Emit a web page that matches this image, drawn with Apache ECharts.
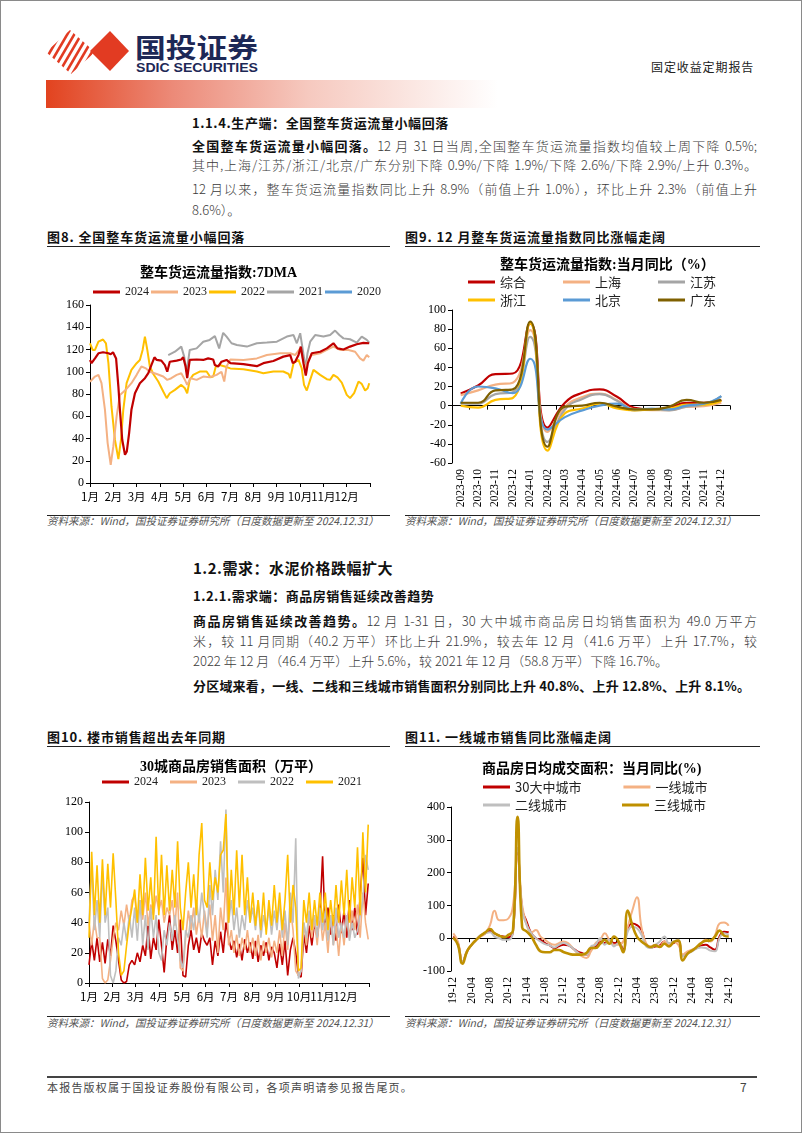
<!DOCTYPE html>
<html><head><meta charset="utf-8">
<script src="https://cdn.jsdelivr.net/npm/echarts@6/dist/echarts.min.js"></script>
<style>
body{margin:0;background:#fff;}
#page{position:relative;width:802px;height:1133px;background:#fff;overflow:hidden;font-family:"Noto Sans CJK SC",sans-serif;color:#3a3a3a;}
#frame{position:absolute;left:0;top:0;width:802px;height:1133px;box-sizing:border-box;border:1px solid #8a8a8a;pointer-events:none;}
.t{position:absolute;white-space:nowrap;line-height:18px;font-size:13px;font-weight:300;}
.t b{font-weight:700;color:#111;}
.j{text-align:justify;text-align-last:justify;white-space:normal;height:18px;overflow:visible;}
.b{font-weight:bold;color:#111;}
.fig{position:absolute;font-size:13px;font-weight:bold;color:#111;line-height:18px;letter-spacing:0.9px;white-space:nowrap;}
.hl{position:absolute;height:0;border-top:1px solid #222;}
.src{position:absolute;font-size:10.5px;font-style:italic;color:#555;line-height:16px;white-space:nowrap;text-align:justify;text-align-last:justify;width:331px;}
.ch{position:absolute;}
.ml{position:absolute;font-family:"Noto Sans CJK SC",sans-serif;font-size:11.5px;color:#000;line-height:14px;white-space:nowrap;transform:translateX(-50%);z-index:5;}
</style></head>
<body><div id="page">
<svg style="position:absolute;left:0;top:0" width="802" height="112">
  <defs><clipPath id="cl"><polygon points="46,52 70,30 95,52 71,74"/></clipPath></defs>
  <g clip-path="url(#cl)" stroke="#E23B22" stroke-width="2.6">
    <line x1="36" y1="76" x2="64" y2="28"/><line x1="43" y1="76" x2="71" y2="28"/>
    <line x1="50" y1="76" x2="78" y2="28"/><line x1="57" y1="76" x2="85" y2="28"/>
    <line x1="64" y1="76" x2="92" y2="28"/><line x1="71" y1="76" x2="99" y2="28"/>
    <line x1="78" y1="76" x2="106" y2="28"/>
  </g>
  <polygon points="90,51 110,31 129,51 110,71" fill="#E23B22"/>
  <text x="135" y="58" font-family="Noto Sans CJK SC" font-weight="bold" font-size="27" fill="#1D2856" textLength="123" lengthAdjust="spacingAndGlyphs">国投证券</text>
  <text x="136" y="72" font-family="Liberation Sans Narrow, Liberation Sans, sans-serif" font-weight="bold" font-size="12.5" fill="#1D2856" textLength="122" lengthAdjust="spacingAndGlyphs">SDIC SECURITIES</text>
</svg>
<div class="t" style="left:651px;top:58px;font-size:12px;letter-spacing:0.9px;color:#222;font-weight:normal;">固定收益定期报告</div>
<div style="position:absolute;left:46px;top:80px;width:452px;height:28px;background:linear-gradient(to right,#E2431F 0%,#EC8A78 28%,#F6C9BF 58%,#FFFFFF 100%);"></div>

<div class="t b" style="left:192px;top:114px;letter-spacing:0.6px;">1.1.4.生产端：全国整车货运流量小幅回落</div>
<div class="t j" style="left:192px;top:137px;width:565px;"><b>全国整车货运流量小幅回落。</b>12 月 31 日当周,全国整车货运流量指数均值较上周下降 0.5%;</div>
<div class="t j" style="left:192px;top:156px;width:565px;">其中,上海/江苏/浙江/北京/广东分别下降 0.9%/下降 1.9%/下降 2.6%/下降 2.9%/上升 0.3%。</div>
<div class="t j" style="left:192px;top:180px;width:565px;">12 月以来，整车货运流量指数同比上升 8.9%（前值上升 1.0%），环比上升 2.3%（前值上升</div>
<div class="t" style="left:192px;top:201px;">8.6%）。</div>

<div class="fig" style="left:47px;top:228px;">图8. 全国整车货运流量小幅回落</div>
<div class="fig" style="left:405px;top:228px;">图9. 12 月整车货运流量指数同比涨幅走阔</div>
<div class="hl" style="left:47px;top:246px;width:343px;"></div>
<div class="hl" style="left:405px;top:246px;width:355px;"></div>

<div id="c8" class="ch" style="left:47px;top:250px;width:345px;height:262px;"></div>
<div id="c9" class="ch" style="left:405px;top:250px;width:360px;height:262px;"></div>

<div class="hl" style="left:47px;top:515px;width:343px;"></div>
<div class="hl" style="left:405px;top:515px;width:355px;"></div>
<div class="src" style="left:47px;top:513px;">资料来源：Wind，国投证券证券研究所（日度数据更新至 2024.12.31）</div>
<div class="src" style="left:405px;top:513px;">资料来源：Wind，国投证券证券研究所（日度数据更新至 2024.12.31）</div>

<div class="t b" style="left:193px;top:559px;font-size:15px;letter-spacing:0.5px;">1.2.需求：水泥价格跌幅扩大</div>
<div class="t b" style="left:193px;top:587px;letter-spacing:0.5px;">1.2.1.需求端：商品房销售延续改善趋势</div>
<div class="t j" style="left:193px;top:612px;width:564px;"><b>商品房销售延续改善趋势。</b>12 月 1-31 日，30 大中城市商品房日均销售面积为 49.0 万平方</div>
<div class="t j" style="left:193px;top:632px;width:564px;">米，较 11 月同期（40.2 万平）环比上升 21.9%，较去年 12 月（41.6 万平）上升 17.7%，较</div>
<div class="t" style="left:193px;top:652px;">2022 年 12 月（46.4 万平）上升 5.6%，较 2021 年 12 月（58.8 万平）下降 16.7%。</div>
<div class="t j b" style="left:193px;top:677px;width:557px;">分区域来看，一线、二线和三线城市销售面积分别同比上升 40.8%、上升 12.8%、上升 8.1%。</div>

<div class="fig" style="left:47px;top:728px;">图10. 楼市销售超出去年同期</div>
<div class="fig" style="left:405px;top:728px;">图11. 一线城市销售同比涨幅走阔</div>
<div class="hl" style="left:47px;top:746px;width:343px;"></div>
<div class="hl" style="left:405px;top:746px;width:355px;"></div>

<div id="c10" class="ch" style="left:47px;top:750px;width:345px;height:262px;"></div>
<div id="c11" class="ch" style="left:405px;top:750px;width:360px;height:262px;"></div>

<div class="hl" style="left:47px;top:1016px;width:343px;"></div>
<div class="hl" style="left:405px;top:1016px;width:355px;"></div>
<div class="src" style="left:47px;top:1015px;">资料来源：Wind，国投证券证券研究所（日度数据更新至 2024.12.31）</div>
<div class="src" style="left:405px;top:1015px;">资料来源：Wind，国投证券证券研究所（日度数据更新至 2024.12.31）</div>

<div style="position:absolute;left:47px;top:1076px;width:710px;height:2px;background:#444;"></div>
<div class="t" style="left:47px;top:1078px;font-size:11px;letter-spacing:1.2px;color:#444;font-weight:normal;">本报告版权属于国投证券股份有限公司，各项声明请参见报告尾页。</div>
<div class="t" style="left:740px;top:1078px;font-size:12px;color:#444;font-weight:normal;">7</div>
<div id="frame"></div>
</div>
<script>
// ---------- Chart 8: 整车货运流量指数 7DMA ([day-of-year, value]) ----------
const monthLabels = ['1月','2月','3月','4月','5月','6月','7月','8月','9月','10月','11月','12月',''];
const legend8 = ['2024','2023','2022','2021','2020'];
const s8_2024 = [[0,110.6],[2,107.7],[6.5,112],[11,116.6],[17,117.5],[24,116.6],[27,115.7],[30,117.5],[34,112],[37,86.7],[39,65.8],[42,38.9],[45.6,25.4],[48,28.4],[51,44.9],[54,65.8],[58.6,80.7],[65,89.7],[71.6,94.2],[76,98.7],[80,106],[84,113],[87,110.6],[93,110],[97.6,106],[100.7,100],[104,109],[113,110],[119,111],[121.5,113],[124.6,104.7],[126.7,94.2],[130,110.6],[139,111],[147.6,110.6],[154,112],[160.6,111],[162.8,106],[167,104.7],[171.4,109],[178,110.6],[183,107.7],[200,106.8],[217.5,105],[226,107.7],[239,109.7],[252,113.6],[261,115],[264.4,107.7],[267.4,109],[271.8,115],[274.8,122.6],[278.3,107.7],[281.3,96.5],[284,107.7],[289,116.6],[300,118],[308.7,121],[317.3,125.6],[322.6,121],[330.4,120],[339,122.6],[347.7,124.7],[356.4,126],[364,125.6]];
const s8_2023 = [[0,91],[6.5,95.7],[11,97.2],[15,89.7],[19.5,65.8],[23,35.9],[27,16.4],[30.4,32.9],[34.7,59.8],[39,79.2],[45.6,83.1],[54,89.7],[60.8,97.2],[67,104.7],[73,103],[78,100],[87,98],[95.5,95.7],[100.7,92.7],[106,94.2],[113,97.2],[119,98.7],[123.7,92.7],[126.7,88.2],[131,94.2],[139,92.7],[147.6,95.7],[156,95],[165,97.2],[171.4,100],[175,91.2],[178,104.7],[183,111],[200,110.6],[217.5,112],[230.5,115],[248,116.6],[261,116.6],[267.4,115],[274,121],[277.4,112],[280.5,101.7],[283.5,109],[289,115],[300,116.6],[308.7,119.6],[317.3,122.6],[326,119.6],[337,119.6],[345.6,118],[352,112],[356.4,110],[360.8,115],[364,113]];
const s8_2022 = [[0,125.6],[3.5,119.6],[6.5,119.6],[11,127],[17,129],[20.8,125.6],[24,107.7],[28,68.8],[32.5,38.9],[37,21.5],[40.4,38.9],[43.4,65.8],[47.7,89.7],[54,101.7],[60.8,107.7],[65,110.6],[68.6,119.6],[71.6,131.6],[74.7,119.6],[78,104.7],[82.5,98],[89,91.2],[95.5,82.2],[100,76.3],[104,80.7],[110.7,83.7],[119,88.2],[123.7,85.2],[126.7,80.7],[130,92.7],[134.5,97.2],[143,100.2],[152,100.2],[157,95],[160.6,95.7],[164,104.7],[169,106],[175.8,104.7],[183,103],[200,102.3],[217.5,100.2],[226,98.7],[239,100.2],[252,100.2],[259,98],[261,94.2],[265.3,107.7],[271.8,110.6],[276,103],[279,88.2],[282.6,83.1],[287,92.7],[291.3,101.7],[300,97.2],[308.7,93.3],[313,92.7],[317.3,97.2],[322.6,95],[328.2,90.3],[334.7,79.2],[339,76.3],[344.3,80.7],[350,91.2],[354.2,89.1],[358.6,83.1],[362,85.2],[364,89.7]];
const s8_2021 = [[102,115],[110.7,118],[119,122.6],[122.8,113.6],[126,100],[130,119.6],[139,121],[147.6,127],[156,128.6],[162.8,132],[168.4,121],[173.6,135],[178,131.6],[184.5,125.6],[191.5,124],[204.5,122.6],[217.5,125.6],[230.5,126.2],[243.6,127],[256.6,131.6],[265.3,133],[269.6,125.6],[274,134.6],[277.4,119.6],[281,103.2],[283.5,116.6],[287,127],[293.5,133],[304.3,131.6],[313,133],[319.5,137],[325,133],[330.4,130],[339,129.2],[347.7,126.2],[354.2,131.6],[360.8,128.6],[364,126.2]];
const s8_2020 = [];

// ---------- Chart 9: 当月同比 (%) ----------
const cats9 = ['2023-09','2023-10','2023-11','2023-12','2024-01','2024-02','2024-03','2024-04','2024-05','2024-06','2024-07','2024-08','2024-09','2024-10','2024-11','2024-12'];
const v9_zonghe   = [12.7, 21, 33, 33.6, 86, -23, 3, 13.4, 16.9, 9.2, -2.4, -4.1, -2, 2.9, 2.9, 5.7];
const v9_shanghai = [11, 16, 22, 24, 79, -27.5, -1.3, 9, 12.7, 5.7, -4, -4.8, -4.8, -1.3, -0.6, 3];
const v9_jiangsu  = [2, 2, 12, 14, 72, -38, -4, 7, 12, 5, -5, -4, -5, -1, 1, 10];
const v9_zhejiang = [0, -2, 6, 8, 86, -47, -8, -3, 2, -3, -5, -4, -3, 1, 1, 5];
const v9_beijing  = [2, 20, 18, 13, 49, -25, -12, -5, 0, 2, -4, -3, -4, 0, 2, 10];
const v9_guangdong= [3, 3, 16, 17, 88, -43, -1, 0, 3, -1, -4, -4, -1, 6, 3, 6];

// ---------- Chart 10: 30城商品房销售面积 (万平), sampled every 3.5 days ----------
const step10 = 3.5;
const legend10 = ['2024','2023','2022','2021'];
const v10_2024 = [12,28,15,30,14,27,13,29,18, 38,28,15,2,0,1,12,15, 12,20,14,25,18,38,16,30,22, 42,25,7,30,45,22,35,20,42, 5,4,25,35,22,30,20,33,28, 25,30,12,28,18,34,20,40, 30,22,28,17,26,15,29,20,27, 16,28,14,25,18,27,15,24,20, 10,26,12,28,5,22,30,20, 5,4,32,20,38,25,40,30,45, 84,35,50,32,45,28,52,33, 48,30,55,35,50,32,58,83,45,66];
const v10_2023 = [40,25,42,30,30,3,0,2,15, 30,40,35,48,38,52,40,55, 58,40,55,42,60,38,52,45,58, 48,55,40,50,45,55,38,60,10, 8,30,48,35,50,32,45,30,48, 35,52,28,45,20,50,35,70, 25,35,20,32,18,30,22,35,20, 30,18,32,15,28,20,30,17,28, 20,35,18,40,22,50,35,8, 5,8,40,25,45,30,42,25,48, 28,40,20,45,25,38,18,40, 25,45,30,48,35,52,30,60,40,29];
const v10_2022 = [40,80,35,55,30,74,40,50,5, 0,8,30,25,40,28,45,30, 50,28,55,25,45,22,50,30,45, 20,15,35,25,40,28,45,30,15, 10,35,30,45,35,55,40,60,45, 30,65,45,75,55,94,60,115, 40,55,35,50,30,45,35,55,40, 50,35,55,30,45,35,50,32,48, 35,55,30,48,25,60,40,96, 3,8,40,30,48,35,45,30,50, 35,48,28,45,25,50,30,40, 30,45,28,40,30,35,45,55,85,75];
const v10_2021 = [30,87,45,78,40,82,45,79,50, 86,55,20,5,8,25,40,50, 62,40,72,45,83,48,70,42,97, 45,85,45,78,48,75,50,94,50, 35,60,80,50,72,45,85,106,55, 50,80,55,70,60,85,88,112, 40,75,45,88,50,85,45,70,40, 60,38,55,35,60,32,55,38,65, 40,60,35,55,85,40,65,50, 8,10,55,40,60,35,55,38,60, 40,60,35,55,38,65,40,68, 45,75,40,70,50,90,45,100,60,105];

// ---------- Chart 11: 商品房日均成交面积 当月同比 (%) ----------
const cats11 = ['19-12','20-01','20-02','20-03','20-04','20-05','20-06','20-07','20-08','20-09','20-10','20-11','20-12',
 '21-01','21-02','21-03','21-04','21-05','21-06','21-07','21-08','21-09','21-10','21-11','21-12',
 '22-01','22-02','22-03','22-04','22-05','22-06','22-07','22-08','22-09','22-10','22-11','22-12',
 '23-01','23-02','23-03','23-04','23-05','23-06','23-07','23-08','23-09','23-10','23-11','23-12',
 '24-01','24-02','24-03','24-04','24-05','24-06','24-07','24-08','24-09','24-10','24-11','24-12'];
const v11_30 = [5,-15,-72,-40,-20,-5,8,15,22,15,8,5,3, 20,270,90,50,15,0,-5,-15,-22,-30,-25,-20, -22,-30,-40,-45,-50,-30,-25,-10,-15,-5,-15,-12, -35,30,45,40,25,-20,-28,-25,-22,-10,-20,-15, -8,-55,-45,-38,-30,-22,-20,-28,-35,5,20,18];
const v11_t1 = [15,-10,-70,-40,-20,-5,5,15,40,84,55,55,60, 100,250,100,40,18,25,5,-5,-15,-20,-15,-10, -15,-30,-45,-55,-60,-40,-15,-5,15,-5,-20,-20, -10,35,84,125,33,-15,-25,-20,-25,-10,-20,-10, -20,-50,-40,-35,-28,-15,-5,-10,8,45,48,38];
const v11_t2 = [0,-20,-72,-40,-20,-5,10,15,18,5,0,-5,-5, 20,275,85,40,15,0,-10,-18,-22,-28,-20,-15, -20,-30,-42,-50,-50,-25,-20,0,-20,-5,-25,-15, -40,20,35,30,10,-25,-30,-20,-10,5,-15,-10, -5,-55,-48,-40,-32,-28,-30,-38,-40,0,15,10];
const v11_t3 = [2,-20,-78,-40,-20,-5,8,18,28,15,8,3,10, 23,370,33,20,5,-20,-40,-43,-43,-36,-36,-42, -47,-50,-50,-50,-45,-30,-30,-17,-5,-17,5,-10, -43,84,40,5,-10,-20,-27,-22,-27,-17,-25,-12, -7,-68,-48,-38,-27,-15,-8,-7,5,23,8,5];

// ---------- shared styling ----------
const serif = '"Liberation Serif","Noto Sans CJK SC",serif';
const cjk = '"Noto Sans CJK SC","Liberation Serif",sans-serif';
const black = '#000';
function yAxis(min, max, interval) {
  return {type:'value', min:min, max:max, interval:interval,
    axisLine:{show:true, onZero:false, lineStyle:{color:black, width:1}},
    axisTick:{show:true, length:4, lineStyle:{color:black}},
    splitLine:{show:false},
    axisLabel:{color:black, fontFamily:serif, fontSize:12, margin:6}};
}
// month axis (category, 13 boundaries) + hidden day-of-year value axis for the data
function monthAxes() {
  return [
    {type:'category', data:monthLabels, boundaryGap:false, position:'bottom',
      axisLine:{show:true, onZero:false, lineStyle:{color:black, width:1}},
      axisTick:{show:true, length:4, interval:0, lineStyle:{color:black}},
      splitLine:{show:false},
      axisLabel:{show:false}},
    {type:'value', min:0, max:365, position:'top', show:false,
      axisLine:{show:false}, axisTick:{show:false}, axisLabel:{show:false}, splitLine:{show:false}}
  ];
}
// month tick labels placed at the category axis' own pixel positions (HTML text)
function addMonthLabels(chart, container) {
  const y0 = chart.convertToPixel({yAxisIndex:0}, 0);
  for (let k = 0; k < 12; k++) {
    const x = chart.convertToPixel({xAxisIndex:0}, monthLabels[k]);
    const d = document.createElement('div');
    d.className = 'ml';
    d.textContent = monthLabels[k];
    d.style.left = x + 'px';
    d.style.top = (y0 + 6) + 'px';
    container.appendChild(d);
  }
}
function titleOf(text, left, top) {
  return {text:text, left:left, top:top, padding:0,
    textStyle:{fontFamily:serif, fontWeight:'bold', fontSize:14, color:black, lineHeight:18}};
}
function legendOf(data, left, top, gap, font, size) {
  return {data:data, left:left, top:top, padding:0, itemGap:gap, itemWidth:27, itemHeight:3,
    icon:'rect', orient:'horizontal', selectedMode:false,
    textStyle:{fontFamily:font, fontSize:size, color:'#222'}};
}
function lineS(name, data, color, width, extra) {
  return Object.assign({name:name, type:'line', data:data, symbol:'none', showSymbol:false,
    lineStyle:{color:color, width:width}, itemStyle:{color:color}, animation:false}, extra || {});
}
function catPair(cats, labelInterval, tickInterval) {
  return [
    {type:'category', data:cats, position:'bottom', boundaryGap:true,
      axisLine:{show:false, onZero:false}, axisTick:{show:false},
      axisLabel:{rotate:90, interval:labelInterval, color:black, fontFamily:serif, fontSize:11.5, margin:6}},
    {type:'category', data:cats, position:'top', boundaryGap:true,
      axisLine:{show:true, onZero:true, lineStyle:{color:black, width:1}},
      axisTick:{show:true, inside:true, length:4, interval:tickInterval, lineStyle:{color:black}},
      axisLabel:{show:false}}
  ];
}

// Chart 8
const el8 = document.getElementById('c8');
const ch8 = echarts.init(el8, null, {renderer:'canvas'});
ch8.setOption({
  animation:false,
  title: titleOf('整车货运流量指数:7DMA', 93, 14),
  legend: legendOf(legend8, 46, 36, 2, serif, 12),
  grid:{left:43, top:55, width:280, height:178},
  xAxis: monthAxes(),
  yAxis: yAxis(0, 160, 20),
  series:[
    lineS('2024', s8_2024, '#C00000', 2.2, {z:6, xAxisIndex:1}),
    lineS('2023', s8_2023, '#F4B183', 2, {z:5, xAxisIndex:1}),
    lineS('2022', s8_2022, '#FFC000', 2, {z:4, xAxisIndex:1}),
    lineS('2021', s8_2021, '#A5A5A5', 2, {z:3, xAxisIndex:1}),
    lineS('2020', s8_2020, '#5B9BD5', 2, {z:2, xAxisIndex:1})
  ]
});
addMonthLabels(ch8, el8);

// Chart 9
echarts.init(document.getElementById('c9'), null, {renderer:'canvas'}).setOption({
  animation:false,
  title: titleOf('整车货运流量指数:当月同比（%）', 95, 6),
  legend:[
    legendOf(['综合','上海','江苏'], 63, 25.5, 37, cjk, 13),
    legendOf(['浙江','北京','广东'], 63, 43.5, 37, cjk, 13)
  ],
  grid:{left:47, top:60, width:278, height:153},
  xAxis: catPair(cats9, 0, 0),
  yAxis: yAxis(-60, 100, 20),
  series:[
    lineS('综合', v9_zonghe, '#C00000', 2.2, {smooth:true}),
    lineS('上海', v9_shanghai, '#F4B183', 2.2, {smooth:true}),
    lineS('江苏', v9_jiangsu, '#A5A5A5', 2.2, {smooth:true}),
    lineS('浙江', v9_zhejiang, '#FFC000', 2.2, {smooth:true}),
    lineS('北京', v9_beijing, '#5B9BD5', 2.2, {smooth:true}),
    lineS('广东', v9_guangdong, '#7F6000', 2.2, {smooth:true})
  ]
});

// Chart 10
function pairs(arr){ return arr.map(function(v,i){ return [i*step10, v]; }); }
const el10 = document.getElementById('c10');
const ch10 = echarts.init(el10, null, {renderer:'canvas'});
ch10.setOption({
  animation:false,
  title: titleOf('30城商品房销售面积（万平）', 93, 8),
  legend: legendOf(legend10, 55, 26, 12, serif, 12),
  grid:{left:42, top:52, width:280, height:181},
  xAxis: monthAxes(),
  yAxis: yAxis(0, 120, 20),
  series:[
    lineS('2024', pairs(v10_2024), '#C00000', 1.6, {xAxisIndex:1}),
    lineS('2023', pairs(v10_2023), '#F4B183', 1.6, {xAxisIndex:1}),
    lineS('2022', pairs(v10_2022), '#BFBFBF', 1.6, {xAxisIndex:1}),
    lineS('2021', pairs(v10_2021), '#FFC000', 1.6, {xAxisIndex:1})
  ]
});
addMonthLabels(ch10, el10);

// Chart 11
echarts.init(document.getElementById('c11'), null, {renderer:'canvas'}).setOption({
  animation:false,
  title: titleOf('商品房日均成交面积：当月同比(%)', 77, 10),
  legend:[
    legendOf(['30大中城市','一线城市'], 78, 30.5, 42, cjk, 13),
    legendOf(['二线城市','三线城市'], 78, 48.5, 55, cjk, 13)
  ],
  grid:{left:46, top:57, width:280, height:164},
  xAxis: catPair(cats11, 3, 3),
  yAxis: yAxis(-100, 400, 100),
  series:[
    lineS('30大中城市', v11_30, '#C00000', 2, {smooth:true}),
    lineS('一线城市', v11_t1, '#F4B183', 2, {smooth:true}),
    lineS('二线城市', v11_t2, '#BFBFBF', 2, {smooth:true}),
    lineS('三线城市', v11_t3, '#BF9000', 2.6, {smooth:true})
  ]
});
</script>
</body></html>
